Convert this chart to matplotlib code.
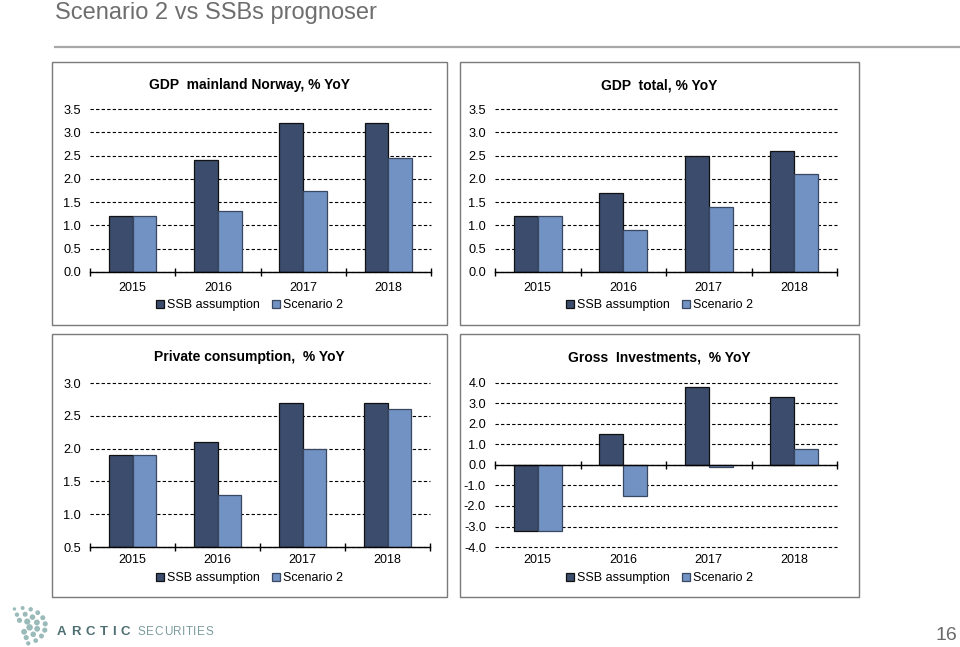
import matplotlib
matplotlib.use('Agg')
import matplotlib.pyplot as plt
from matplotlib.patches import Rectangle
from matplotlib.ticker import MultipleLocator, FormatStrFormatter
from matplotlib.transforms import offset_copy
import numpy as np

plt.rcParams['font.family'] = ['Liberation Sans', 'DejaVu Sans']

# data
years = ['2015', '2016', '2017', '2018']
series_names = ['SSB assumption', 'Scenario 2']

gdp_mainland_ssb = [1.2, 2.4, 3.2, 3.2]
gdp_mainland_scen2 = [1.2, 1.3, 1.75, 2.45]
gdp_total_ssb = [1.2, 1.7, 2.5, 2.6]
gdp_total_scen2 = [1.2, 0.9, 1.4, 2.1]
priv_cons_ssb = [1.9, 2.1, 2.7, 2.7]
priv_cons_scen2 = [1.9, 1.3, 2.0, 2.6]
gross_inv_ssb = [-3.2, 1.5, 3.8, 3.3]
gross_inv_scen2 = [-3.2, -1.5, -0.1, 0.8]

dark = '#3b4c6d'
light = '#7192c2'

W, H = 960, 647
fig = plt.figure(figsize=(9.6, 6.47), dpi=100)


def fx(px):
    return px / W


def fy(py):
    return 1 - py / H


panels = [
    dict(title='GDP  mainland Norway, % YoY', ssb=gdp_mainland_ssb, sc=gdp_mainland_scen2,
         ylim=(0, 3.5), step=0.5, base=0, ax_px=(90, 109, 431, 272),
         frame=(52, 62, 447, 325), title_y=85, year_dy=16, leg_y=305),
    dict(title='GDP  total, % YoY', ssb=gdp_total_ssb, sc=gdp_total_scen2,
         ylim=(0, 3.5), step=0.5, base=0, ax_px=(495, 109, 837, 272),
         frame=(460, 62, 859, 325), title_y=85, year_dy=16, leg_y=305),
    dict(title='Private consumption,  % YoY', ssb=priv_cons_ssb, sc=priv_cons_scen2,
         ylim=(0.5, 3.0), step=0.5, base=0.5, ax_px=(90, 383, 430, 547),
         frame=(52, 334, 447, 597), title_y=357, year_dy=13, leg_y=578),
    dict(title='Gross  Investments,  % YoY', ssb=gross_inv_ssb, sc=gross_inv_scen2,
         ylim=(-4.0, 4.0), step=1.0, base=0, ax_px=(495, 383, 837, 547),
         frame=(460, 334, 859, 597), title_y=357, year_dy=13, leg_y=578),
]

x = np.arange(len(years))
bw = 0.28

for p in panels:
    l, t, r, b = p['ax_px']
    ax = fig.add_axes([fx(l), fy(b), fx(r - l), (b - t) / H])
    base = p['base']
    ax.bar(x - bw / 2, np.array(p['ssb']) - base, bw, bottom=base, color=dark,
           edgecolor='#111111', linewidth=0.9, label=series_names[0], zorder=2)
    ax.bar(x + bw / 2, np.array(p['sc']) - base, bw, bottom=base, color=light,
           edgecolor='#3a4760', linewidth=0.9, label=series_names[1], zorder=2)

    ax.set_xlim(-0.5, len(years) - 0.5)
    ax.set_ylim(*p['ylim'])
    ax.yaxis.set_major_locator(MultipleLocator(p['step']))
    ax.yaxis.set_major_formatter(FormatStrFormatter('%.1f'))
    ax.set_axisbelow(True)
    ax.grid(axis='y', color='black', linestyle=(0, (3, 2)), linewidth=0.8)
    for gl in ax.get_ygridlines():
        gl.set_clip_on(False)
    for s in ['left', 'right', 'top']:
        ax.spines[s].set_visible(False)
    ax.spines['bottom'].set_position(('data', base))
    ax.spines['bottom'].set_linewidth(1.0)
    ax.spines['bottom'].set_zorder(3)
    ax.set_xticks(np.arange(-0.5, len(years), 1.0))
    ax.set_xticklabels([])
    ax.tick_params(axis='x', direction='inout', length=6, width=1.0)
    ax.tick_params(axis='y', length=0, pad=6.5, labelsize=9.2)

    trans = offset_copy(ax.get_xaxis_transform(), fig=fig, y=-p['year_dy'], units='dots')
    for i, yr in enumerate(years):
        ax.text(i, 0, yr, transform=trans, ha='center', va='center', fontsize=9)

    fl, ft, fr, fb = p['frame']
    fig.patches.append(Rectangle((fx(fl), fy(fb)), fx(fr - fl), (fb - ft) / H,
                                 transform=fig.transFigure, fill=False,
                                 edgecolor='#7a7a7a', linewidth=1.0))
    cx = fx((fl + fr) / 2)
    fig.text(cx, fy(p['title_y']), p['title'], ha='center', va='center',
             fontsize=10, fontweight='bold')
    ax.legend(loc='center', bbox_to_anchor=(cx, fy(p['leg_y'])),
              bbox_transform=fig.transFigure, ncol=2, frameon=False,
              fontsize=9, handlelength=0.6, handleheight=0.6,
              handletextpad=0.25, columnspacing=1.0, borderpad=0)

# slide title and rule
fig.text(fx(55), fy(13), 'Scenario 2 vs SSBs prognoser', ha='left', va='center',
         fontsize=17, color='#6e6e6e')
fig.add_artist(plt.Line2D([fx(55), 1.0], [fy(47), fy(47)], color='#a8a8a8',
                          linewidth=1.6, transform=fig.transFigure))

# logo
logo_ax = fig.add_axes([0, 0, 1, 1], zorder=-1)
logo_ax.set_xlim(0, W)
logo_ax.set_ylim(H, 0)
logo_ax.axis('off')
for ring, (rad, n) in enumerate([(6, 4), (12, 7), (18, 10)]):
    ang = np.linspace(-1.3, 1.9, n)
    logo_ax.scatter(22 + rad * np.cos(ang) * 1.3, 626 - rad * np.sin(ang),
                    s=16 - ring * 4 + 6 * np.cos(ang), color='#88b0ae', alpha=0.85,
                    linewidths=0)

renderer = fig.canvas.get_renderer()


def tracked(word, x0, x1, y, **kw):
    # letter-spaced word between x0 and x1 (pixels)
    texts = [fig.text(0, fy(y), c, ha='left', va='center', **kw) for c in word]
    ws = [tx.get_window_extent(renderer).width for tx in texts]
    gap = (x1 - x0 - sum(ws)) / (len(word) - 1)
    xc = x0
    for tx, w in zip(texts, ws):
        tx.set_x(fx(xc))
        xc += w + gap


tracked('ARCTIC', 57, 130, 632, fontsize=9.5, fontweight='bold', color='#4f6f73')
tracked('SECURITIES', 138, 213, 632, fontsize=8.5, color='#7c9c9e')
fig.text(fx(957), fy(635), '16', ha='right', va='center', fontsize=14, color='#6a6a6a')

fig.savefig('out.png', dpi=100)
